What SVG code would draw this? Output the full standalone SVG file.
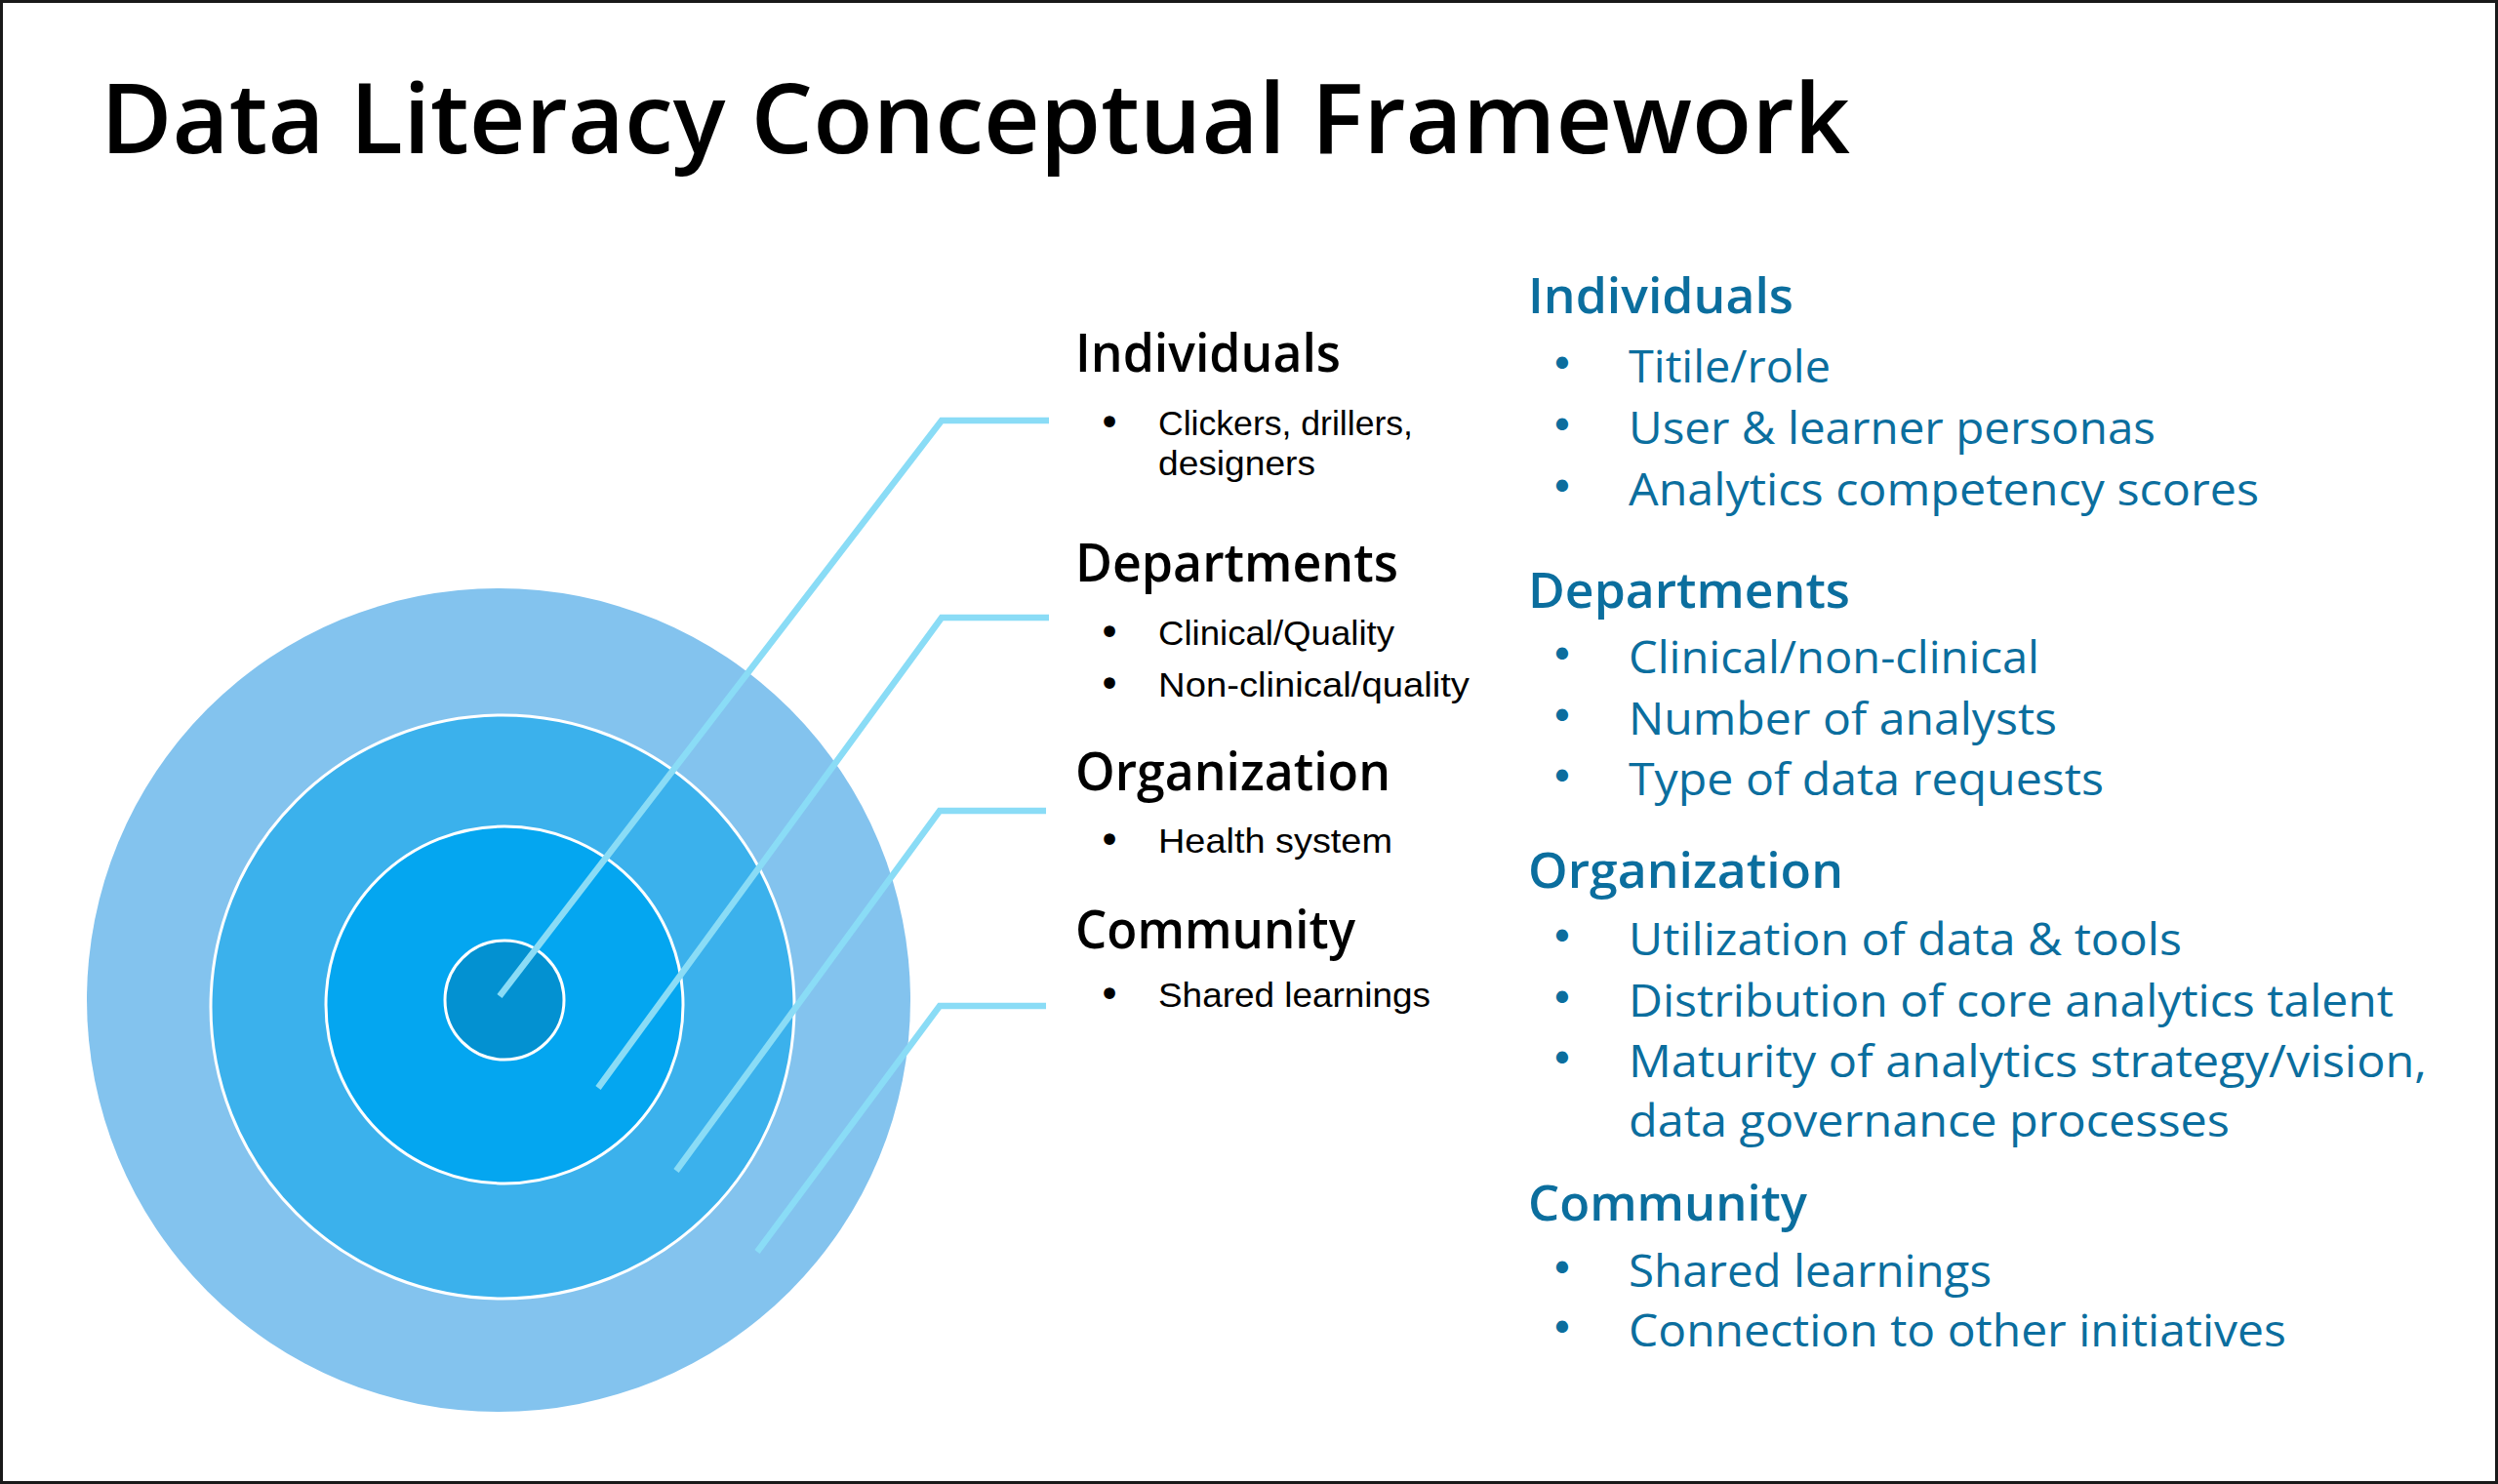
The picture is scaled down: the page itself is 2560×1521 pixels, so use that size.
<svg xmlns="http://www.w3.org/2000/svg" width="2560" height="1521" viewBox="0 0 2560 1521">
<defs>
<style>
text{font-family:"Open Sans","Liberation Sans",sans-serif;}
.title{font-size:100px;font-weight:600;fill:#000;}
.mh{font-size:54px;font-weight:600;fill:#000;}
.mb{font-family:"Liberation Sans",Arial,sans-serif;font-size:35px;font-weight:400;fill:#000;}
.mbul{font-family:"DejaVu Sans",sans-serif;font-size:40px;fill:#000;}
.rh{font-size:50px;font-weight:600;fill:#0B6E9E;}
.rb{font-size:46px;font-weight:400;fill:#0B6E9E;}
.rbul{font-family:"DejaVu Sans",sans-serif;font-size:42px;fill:#0B6E9E;}
.ring{stroke:#FFFFFF;stroke-width:3;}
.conn{fill:none;stroke:#8ADCF6;stroke-width:6.5;stroke-linejoin:miter;stroke-linecap:butt;}
</style>
</defs>
<rect x="0" y="0" width="2560" height="1521" fill="#FFFFFF"/>
<rect x="1.5" y="1.5" width="2557" height="1518" fill="none" stroke="#1A1A1A" stroke-width="3"/>

<text id="title" class="title" x="103" y="157" textLength="1793" lengthAdjust="spacingAndGlyphs">Data Literacy Conceptual Framework</text>

<g id="ring-community"><circle cx="511" cy="1025" r="422" fill="#83C3EE"/></g>
<g id="ring-organization"><circle class="ring" cx="515" cy="1032" r="299" fill="#3BB1EC"/></g>
<g id="ring-departments"><circle class="ring" cx="517" cy="1030" r="183" fill="#04A6F0"/></g>
<g id="ring-individuals"><circle class="ring" cx="517" cy="1025" r="61" fill="#0391D1"/></g>

<g id="connectors">
<path class="conn" d="M512,1021 L965,431 L1075,431"/>
<path class="conn" d="M613,1115 L965,633 L1075,633"/>
<path class="conn" d="M693,1200 L963,831 L1072,831"/>
<path class="conn" d="M776,1283 L963,1031 L1072,1031"/>
</g>

<g id="label-individuals">
<text class="mh" x="1102" y="381" textLength="272" lengthAdjust="spacingAndGlyphs">Individuals</text>
<text class="mbul" x="1137" y="447" text-anchor="middle">•</text>
<text class="mb" x="1187" y="446" textLength="261" lengthAdjust="spacingAndGlyphs">Clickers, drillers,</text>
<text class="mb" x="1187" y="487" textLength="161" lengthAdjust="spacingAndGlyphs">designers</text>
</g>
<g id="label-departments">
<text class="mh" x="1102" y="596" textLength="331" lengthAdjust="spacingAndGlyphs">Departments</text>
<text class="mbul" x="1137" y="662" text-anchor="middle">•</text>
<text class="mb" x="1187" y="661" textLength="242" lengthAdjust="spacingAndGlyphs">Clinical/Quality</text>
<text class="mbul" x="1137" y="715" text-anchor="middle">•</text>
<text class="mb" x="1187" y="714" textLength="319" lengthAdjust="spacingAndGlyphs">Non-clinical/quality</text>
</g>
<g id="label-organization">
<text class="mh" x="1102" y="810" textLength="323" lengthAdjust="spacingAndGlyphs">Organization</text>
<text class="mbul" x="1137" y="875" text-anchor="middle">•</text>
<text class="mb" x="1187" y="874" textLength="240" lengthAdjust="spacingAndGlyphs">Health system</text>
</g>
<g id="label-community">
<text class="mh" x="1102" y="972" textLength="287" lengthAdjust="spacingAndGlyphs">Community</text>
<text class="mbul" x="1137" y="1033" text-anchor="middle">•</text>
<text class="mb" x="1187" y="1032" textLength="279" lengthAdjust="spacingAndGlyphs">Shared learnings</text>
</g>

<g id="detail-individuals">
<text class="rh" x="1566" y="321" textLength="272" lengthAdjust="spacingAndGlyphs">Individuals</text>
<text class="rbul" x="1601" y="388" text-anchor="middle">•</text>
<text class="rb" x="1669" y="392" textLength="207" lengthAdjust="spacingAndGlyphs">Titile/role</text>
<text class="rbul" x="1601" y="451" text-anchor="middle">•</text>
<text class="rb" x="1669" y="455" textLength="540" lengthAdjust="spacingAndGlyphs">User &amp; learner personas</text>
<text class="rbul" x="1601" y="514" text-anchor="middle">•</text>
<text class="rb" x="1669" y="518" textLength="646" lengthAdjust="spacingAndGlyphs">Analytics competency scores</text>
</g>
<g id="detail-departments">
<text class="rh" x="1566" y="623" textLength="330" lengthAdjust="spacingAndGlyphs">Departments</text>
<text class="rbul" x="1601" y="686" text-anchor="middle">•</text>
<text class="rb" x="1669" y="690" textLength="421" lengthAdjust="spacingAndGlyphs">Clinical/non-clinical</text>
<text class="rbul" x="1601" y="749" text-anchor="middle">•</text>
<text class="rb" x="1669" y="753" textLength="439" lengthAdjust="spacingAndGlyphs">Number of analysts</text>
<text class="rbul" x="1601" y="811" text-anchor="middle">•</text>
<text class="rb" x="1669" y="815" textLength="487" lengthAdjust="spacingAndGlyphs">Type of data requests</text>
</g>
<g id="detail-organization">
<text class="rh" x="1566" y="910" textLength="323" lengthAdjust="spacingAndGlyphs">Organization</text>
<text class="rbul" x="1601" y="975" text-anchor="middle">•</text>
<text class="rb" x="1669" y="979" textLength="567" lengthAdjust="spacingAndGlyphs">Utilization of data &amp; tools</text>
<text class="rbul" x="1601" y="1038" text-anchor="middle">•</text>
<text class="rb" x="1669" y="1042" textLength="784" lengthAdjust="spacingAndGlyphs">Distribution of core analytics talent</text>
<text class="rbul" x="1601" y="1100" text-anchor="middle">•</text>
<text class="rb" x="1669" y="1104" textLength="818" lengthAdjust="spacingAndGlyphs">Maturity of analytics strategy/vision,</text>
<text class="rb" x="1669" y="1165" textLength="616" lengthAdjust="spacingAndGlyphs">data governance processes</text>
</g>
<g id="detail-community">
<text class="rh" x="1566" y="1251" textLength="286" lengthAdjust="spacingAndGlyphs">Community</text>
<text class="rbul" x="1601" y="1315" text-anchor="middle">•</text>
<text class="rb" x="1669" y="1319" textLength="372" lengthAdjust="spacingAndGlyphs">Shared learnings</text>
<text class="rbul" x="1601" y="1376" text-anchor="middle">•</text>
<text class="rb" x="1669" y="1380" textLength="674" lengthAdjust="spacingAndGlyphs">Connection to other initiatives</text>
</g>
</svg>
